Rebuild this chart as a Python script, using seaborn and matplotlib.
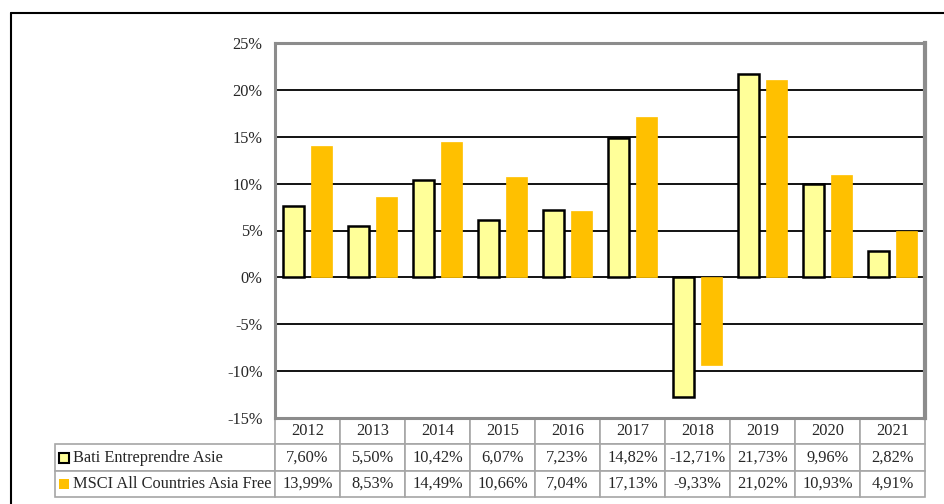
import numpy as np
import pandas as pd
import matplotlib
matplotlib.use("Agg")
import matplotlib.pyplot as plt
import seaborn as sns
from matplotlib.patches import Rectangle
from matplotlib.lines import Line2D

years = ["2012", "2013", "2014", "2015", "2016", "2017", "2018", "2019", "2020", "2021"]
bati = [7.60, 5.50, 10.42, 6.07, 7.23, 14.82, -12.71, 21.73, 9.96, 2.82]
msci = [13.99, 8.53, 14.49, 10.66, 7.04, 17.13, -9.33, 21.02, 10.93, 4.91]
series_names = ["Bati Entreprendre Asie", "MSCI All Countries Asia Free"]
y_ticks = [-15, -10, -5, 0, 5, 10, 15, 20, 25]

BATI_COLOR = "#FFFF99"
MSCI_COLOR = "#FFC000"
GRID_GRAY = "#8C8C8C"
FS = 11.8


def fmt(v):
    return f"{v:.2f}%".replace(".", ",")


def main():
    sns.set_theme(style="white")
    plt.rcParams["font.family"] = ["Liberation Serif", "DejaVu Serif"]

    df = pd.DataFrame({
        "year": years * 2,
        "value": bati + msci,
        "series": [series_names[0]] * len(years) + [series_names[1]] * len(years),
    })

    fig = plt.figure(figsize=(9.44, 5.04), dpi=100)
    ax = fig.add_axes([275 / 944, 1 - 418 / 504, 650 / 944, 375 / 504])

    sns.barplot(data=df, x="year", y="value", hue="series", order=years,
                hue_order=series_names, palette=[BATI_COLOR, MSCI_COLOR],
                width=0.86, gap=0.23, ax=ax, legend=False, errorbar=None,
                saturation=1, zorder=3)
    for patch in ax.containers[0]:
        patch.set_edgecolor("black")
        patch.set_linewidth(1.8)
    for patch in ax.containers[1]:
        patch.set_edgecolor(MSCI_COLOR)
        patch.set_linewidth(0.5)

    ax.set_ylim(-15, 25)
    ax.set_xlim(-0.5, len(years) - 0.5)
    ax.set_yticks(y_ticks)
    ax.set_yticklabels([f"{t}%" for t in y_ticks], fontsize=FS)
    ax.tick_params(axis="y", length=0, pad=9)
    ax.set_xticks([])
    ax.set_xlabel("")
    ax.set_ylabel("")
    for t in y_ticks[1:-1]:
        ax.axhline(t, color="black", lw=1.3, zorder=1)
    for side in ["left", "right", "top", "bottom"]:
        ax.spines[side].set_color(GRID_GRAY)
        ax.spines[side].set_linewidth(2.2)
    ax.spines["right"].set_linewidth(3)

    # data table under the chart
    label_w = 220 / 650
    cell_text = [[""] + years,
                 [series_names[0]] + [fmt(v) for v in bati],
                 [series_names[1]] + [fmt(v) for v in msci]]
    col_widths = [label_w] + [1 / len(years)] * len(years)
    tab = ax.table(cellText=cell_text, colWidths=col_widths, cellLoc="center",
                   bbox=[-label_w, -79 / 375, 1 + label_w, 79 / 375])
    tab.auto_set_font_size(False)
    tab.set_fontsize(FS)
    for (r, c), cell in tab.get_celld().items():
        cell.set_edgecolor("#A6A6A6")
        cell.set_linewidth(1.2)
        if r == 0 and c == 0:
            cell.visible_edges = "open"
        if c == 0 and r > 0:
            cell._loc = "left"
            cell.PAD = 0.08
            cell.get_text().set_horizontalalignment("left")

    # legend keys in the table
    sq_w = 10 / 650
    sq_h = 10 / 375
    ax.add_patch(Rectangle((-label_w + 4 / 650, -40 / 375 - sq_h / 2), sq_w, sq_h,
                           transform=ax.transAxes, clip_on=False,
                           facecolor=BATI_COLOR, edgecolor="black", lw=1.5))
    ax.add_patch(Rectangle((-label_w + 4 / 650, -66 / 375 - sq_h / 2), sq_w, sq_h,
                           transform=ax.transAxes, clip_on=False,
                           facecolor=MSCI_COLOR, edgecolor="none"))

    # outer frame
    fig.add_artist(Line2D([11 / 944, 1], [1 - 13 / 504] * 2, color="black", lw=1.5))
    fig.add_artist(Line2D([11 / 944] * 2, [0, 1 - 13 / 504], color="black", lw=1.5))

    fig.savefig("out.png", dpi=100)


if __name__ == "__main__":
    main()
